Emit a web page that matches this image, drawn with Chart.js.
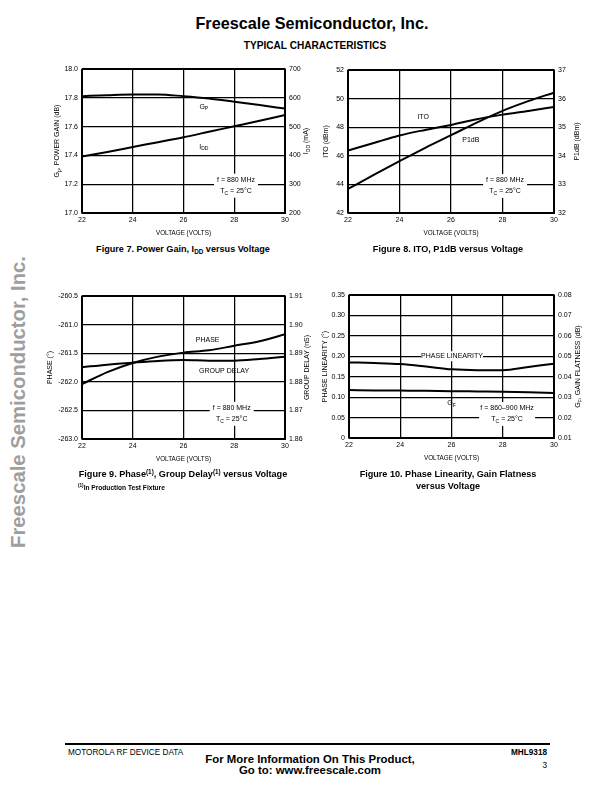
<!DOCTYPE html>
<html><head><meta charset="utf-8">
<script src="https://cdn.jsdelivr.net/npm/chart.js@4.4.1/dist/chart.umd.min.js"></script>
<style>
html,body{margin:0;padding:0;background:#fff;}
body{width:612px;height:792px;position:relative;overflow:hidden;font-family:'Liberation Sans',Arial,Helvetica,sans-serif;color:#000;}
.abs{position:absolute;white-space:nowrap;line-height:1;}
.cap{font-weight:bold;font-size:9.1px;text-align:center;}
sub,sup{font-size:70%;line-height:0;}
sub{vertical-align:-2px;}
sup{vertical-align:3px;}
canvas{position:absolute;}
</style></head><body>

<div class="abs" style="left:6px;width:612px;top:15px;text-align:center;font-weight:bold;font-size:16.2px;">Freescale Semiconductor, Inc.</div>
<div class="abs" style="left:9px;width:612px;top:41px;text-align:center;font-weight:bold;font-size:10.1px;">TYPICAL CHARACTERISTICS</div>

<div class="abs" style="left:18px;top:402px;transform:translate(-50%,-50%) rotate(-90deg);font-weight:bold;font-size:20.3px;color:#9e9e9e;">Freescale Semiconductor, Inc.</div>

<canvas id="c1"></canvas>
<canvas id="c2"></canvas>
<canvas id="c3"></canvas>
<canvas id="c4"></canvas>

<div class="abs cap" style="left:33px;width:300px;top:245px;">Figure 7. Power Gain, I<sub>DD</sub> versus Voltage</div>
<div class="abs cap" style="left:298px;width:300px;top:245px;">Figure 8. ITO, P1dB versus Voltage</div>
<div class="abs cap" style="left:33px;width:300px;top:470px;">Figure 9. Phase<sup>(1)</sup>, Group Delay<sup>(1)</sup> versus Voltage</div>
<div class="abs" style="left:78px;top:485px;font-weight:bold;font-size:6.6px;"><sup>(1)</sup>In Production Test Fixture</div>
<div class="abs cap" style="left:298px;width:300px;top:470px;">Figure 10. Phase Linearity, Gain Flatness</div>
<div class="abs cap" style="left:298px;width:300px;top:482px;">versus Voltage</div>

<div class="abs" style="left:65px;top:743px;width:485px;height:2px;background:#000;"></div>
<div class="abs" style="left:68px;top:749px;font-size:8.2px;">MOTOROLA RF DEVICE DATA</div>
<div class="abs" style="left:160px;width:300px;top:754px;text-align:center;font-weight:bold;font-size:11.4px;">For More Information On This Product,</div>
<div class="abs" style="left:160px;width:300px;top:765px;text-align:center;font-weight:bold;font-size:11.4px;">Go to: www.freescale.com</div>
<div class="abs" style="left:447px;width:100px;top:749px;text-align:right;font-weight:bold;font-size:8.2px;">MHL9318</div>
<div class="abs" style="left:447px;width:100px;top:762px;text-align:right;font-size:8.2px;">3</div>

<script>
// ---------------- data ----------------
const voltage = [22, 23, 24, 25, 26, 27, 28, 29, 30];
const voltTicks = [22, 24, 26, 28, 30];
const voltLabels = ['22', '24', '26', '28', '30'];

// Figure 7
const powerGain = [17.811, 17.818, 17.823, 17.823, 17.811, 17.795, 17.773, 17.750, 17.725];
const drainCurrent = [396, 412, 429, 446, 463, 482, 501, 520, 540];
const gainTicks = [17.0, 17.2, 17.4, 17.6, 17.8, 18.0];
const gainLabels = ['17.0', '17.2', '17.4', '17.6', '17.8', '18.0'];
const iddTicks = [200, 300, 400, 500, 600, 700];
const iddLabels = ['200', '300', '400', '500', '600', '700'];

// Figure 8
const ito = [46.37, 46.90, 47.42, 47.81, 48.16, 48.56, 48.88, 49.14, 49.42];
const p1db = [32.84, 33.33, 33.81, 34.28, 34.72, 35.16, 35.57, 35.91, 36.21];
const itoTicks = [42, 44, 46, 48, 50, 52];
const itoLabels = ['42', '44', '46', '48', '50', '52'];
const p1dbTicks = [32, 33, 34, 35, 36, 37];
const p1dbLabels = ['32', '33', '34', '35', '36', '37'];

// Figure 9
const phase = [-262.04, -261.83, -261.67, -261.56, -261.49, -261.45, -261.37, -261.29, -261.17];
const groupDelay = [1.8851, 1.8860, 1.8867, 1.8873, 1.8876, 1.8874, 1.8874, 1.8880, 1.8888];
const phaseTicks = [-263.0, -262.5, -262.0, -261.5, -261.0, -260.5];
const phaseLabels = ['-263.0', '-262.5', '-262.0', '-261.5', '-261.0', '-260.5'];
const gdTicks = [1.86, 1.87, 1.88, 1.89, 1.90, 1.91];
const gdLabels = ['1.86', '1.87', '1.88', '1.89', '1.90', '1.91'];

// Figure 10
const phaseLinearity = [0.185, 0.1835, 0.181, 0.175, 0.168, 0.166, 0.166, 0.174, 0.182];
const gainFlatness = [0.0335, 0.0333, 0.0332, 0.0331, 0.0329, 0.0328, 0.0327, 0.0324, 0.0320];
const plTicks = [0, 0.05, 0.10, 0.15, 0.20, 0.25, 0.30, 0.35];
const plLabels = ['0', '0.05', '0.10', '0.15', '0.20', '0.25', '0.30', '0.35'];
const gfTicks = [0.01, 0.02, 0.03, 0.04, 0.05, 0.06, 0.07, 0.08];
const gfLabels = ['0.01', '0.02', '0.03', '0.04', '0.05', '0.06', '0.07', '0.08'];

// ---------------- helpers ----------------
const FAM = "'Liberation Sans',Arial,sans-serif";
const FS = 7;

function drawRich(ctx, parts, x, y, size, align, sx) {
  sx = sx || 1;
  const fontFor = m => (m ? size * 0.72 : size) + 'px ' + FAM;
  let w = 0;
  for (const [t, m] of parts) { ctx.font = fontFor(m); w += ctx.measureText(t).width; }
  w *= sx;
  let cx = align === 'left' ? x : align === 'right' ? x - w : x - w / 2;
  ctx.save();
  ctx.translate(cx, y);
  ctx.scale(sx, 1);
  ctx.textBaseline = 'middle';
  ctx.textAlign = 'left';
  ctx.fillStyle = '#000';
  let px = 0;
  for (const [t, m] of parts) {
    ctx.font = fontFor(m);
    const dy = m === 'sub' ? size * 0.32 : m === 'sup' ? -size * 0.35 : 0;
    ctx.fillText(t, px, dy);
    px += ctx.measureText(t).width;
  }
  ctx.restore();
  return w;
}

const notesPlugin = {
  id: 'notes',
  beforeDatasetsDraw(chart, args, o) {
    const ctx = chart.ctx, xs = chart.scales.x, ys = chart.scales.y;
    ctx.save();
    ctx.fillStyle = '#fff';
    for (const b of (o.boxes || [])) {
      const px = xs.getPixelForValue(b.x), py = ys.getPixelForValue(b.y);
      ctx.fillRect(px - b.w / 2, py - b.h / 2, b.w, b.h);
    }
    ctx.restore();
  },
  afterDatasetsDraw(chart, args, o) {
    const ctx = chart.ctx, a = chart.chartArea, xs = chart.scales.x, ys = chart.scales.y;
    ctx.save();
    for (const b of (o.boxes || [])) {
      const px = xs.getPixelForValue(b.x), py = ys.getPixelForValue(b.y);
      const n = b.lines.length, lh = b.lh || 11;
      b.lines.forEach((ln, i) => drawRich(ctx, ln, px, py + (i - (n - 1) / 2) * lh, FS, 'center'));
    }
    for (const l of (o.labels || [])) {
      const px = xs.getPixelForValue(l.x), py = ys.getPixelForValue(l.y);
      drawRich(ctx, l.parts, px, py, FS, 'center');
    }
    ctx.strokeStyle = '#000';
    ctx.lineWidth = 1.5;
    ctx.strokeRect(Math.round(a.left) + 0.25, Math.round(a.top) + 0.25, Math.round(a.right - a.left), Math.round(a.bottom - a.top));
    const midY = (a.top + a.bottom) / 2;
    ctx.save(); ctx.translate(a.left - o.leftOff, midY); ctx.rotate(-Math.PI / 2);
    drawRich(ctx, o.leftTitle, 0, 0, FS, 'center'); ctx.restore();
    ctx.save(); ctx.translate(a.right + o.rightOff, midY); ctx.rotate(-Math.PI / 2);
    drawRich(ctx, o.rightTitle, 0, 0, FS, 'center'); ctx.restore();
    drawRich(ctx, [['VOLTAGE (VOLTS)', '']], (a.left + a.right) / 2, a.bottom + 20, FS, 'center', 0.9);
    ctx.restore();
  }
};

function tickSet(values, labels, pad) {
  return {
    afterBuildTicks: sc => { sc.ticks = values.map(v => ({ value: v })); },
    ticks: { callback: (v, i) => labels[i], font: { family: FAM, size: FS }, color: '#000', padding: pad, autoSkip: false, maxRotation: 0 }
  };
}

function buildChart(id, box, s) {
  const W = box.R - box.L + 100, H = box.B - box.T + 40;
  const cv = document.getElementById(id);
  cv.width = W; cv.height = H;
  cv.style.width = W + 'px'; cv.style.height = H + 'px';
  cv.style.left = (box.L - 50) + 'px'; cv.style.top = (box.T - 10) + 'px';
  const grid = { color: '#000', lineWidth: 1.25, drawTicks: false };
  return new Chart(cv, {
    type: 'line',
    data: {
      datasets: s.series.map(se => ({
        data: voltage.map((v, i) => ({ x: v, y: se.values[i] })),
        yAxisID: se.axis, borderColor: '#000', borderWidth: 2, pointRadius: 0,
        cubicInterpolationMode: 'monotone', fill: false
      }))
    },
    options: {
      responsive: false, animation: false, devicePixelRatio: 1,
      layout: { padding: { top: 10, left: 0, right: 0, bottom: 0 } },
      plugins: { legend: { display: false }, tooltip: { enabled: false }, notes: s.notes },
      scales: {
        x: Object.assign({ type: 'linear', min: 22, max: 30, grid, border: { display: false },
          afterFit: sc => { sc.height = 30; } }, tickSet(voltTicks, voltLabels, 3)),
        y: Object.assign({ type: 'linear', position: 'left', min: s.yMin, max: s.yMax, grid, border: { display: false },
          afterFit: sc => { sc.width = 50; } }, tickSet(s.yTicks, s.yLabels, 4)),
        y2: Object.assign({ type: 'linear', position: 'right', min: s.y2Min, max: s.y2Max, grid: { display: false, drawTicks: false }, border: { display: false },
          afterFit: sc => { sc.width = 50; } }, tickSet(s.y2Ticks, s.y2Labels, 4))
      }
    },
    plugins: [notesPlugin]
  });
}

const TC = [['T', ''], ['C', 'sub'], [' = 25°C', '']];

buildChart('c1', { L: 82, R: 285, T: 69, B: 213 }, {
  series: [{ values: powerGain, axis: 'y' }, { values: drainCurrent, axis: 'y2' }],
  yMin: 17.0, yMax: 18.0, yTicks: gainTicks, yLabels: gainLabels,
  y2Min: 200, y2Max: 700, y2Ticks: iddTicks, y2Labels: iddLabels,
  notes: {
    leftOff: 25, rightOff: 21,
    leftTitle: [['G', ''], ['p', 'sub'], [', POWER GAIN (dB)', '']],
    rightTitle: [['I', ''], ['DD', 'sub'], [' (mA)', '']],
    labels: [
      { x: 26.8, y: 17.738, parts: [['G', ''], ['P', 'sub']] },
      { x: 26.8, y: 17.46, parts: [['I', ''], ['DD', 'sub']] }
    ],
    boxes: [{ x: 28.07, y: 17.19, w: 44, h: 24, lines: [[['f = 880 MHz', '']], TC] }]
  }
});

buildChart('c2', { L: 348, R: 554, T: 70, B: 213 }, {
  series: [{ values: ito, axis: 'y' }, { values: p1db, axis: 'y2' }],
  yMin: 42, yMax: 52, yTicks: itoTicks, yLabels: itoLabels,
  y2Min: 32, y2Max: 37, y2Ticks: p1dbTicks, y2Labels: p1dbLabels,
  notes: {
    leftOff: 22, rightOff: 23,
    leftTitle: [['ITO (dBm)', '']],
    rightTitle: [['P1dB (dBm)', '']],
    labels: [
      { x: 24.92, y: 48.73, parts: [['ITO', '']] },
      { x: 26.77, y: 47.1, parts: [['P1dB', '']] }
    ],
    boxes: [{ x: 28.1, y: 43.89, w: 44, h: 24, lines: [[['f = 880 MHz', '']], TC] }]
  }
});

buildChart('c3', { L: 82, R: 285, T: 295.5, B: 439 }, {
  series: [{ values: phase, axis: 'y' }, { values: groupDelay, axis: 'y2' }],
  yMin: -263.0, yMax: -260.5, yTicks: phaseTicks, yLabels: phaseLabels,
  y2Min: 1.86, y2Max: 1.91, y2Ticks: gdTicks, y2Labels: gdLabels,
  notes: {
    leftOff: 32, rightOff: 22,
    leftTitle: [['PHASE (°)', '']],
    rightTitle: [['GROUP DELAY (nS)', '']],
    labels: [
      { x: 26.95, y: -261.275, parts: [['PHASE', '']] },
      { x: 27.6, y: -261.82, parts: [['GROUP DELAY', '']] }
    ],
    boxes: [{ x: 27.9, y: -262.56, w: 44, h: 24, lines: [[['f = 880 MHz', '']], TC] }]
  }
});

buildChart('c4', { L: 349, R: 554, T: 295, B: 438 }, {
  series: [{ values: phaseLinearity, axis: 'y' }, { values: gainFlatness, axis: 'y2' }],
  yMin: 0, yMax: 0.35, yTicks: plTicks, yLabels: plLabels,
  y2Min: 0.01, y2Max: 0.08, y2Ticks: gfTicks, y2Labels: gfLabels,
  notes: {
    leftOff: 24, rightOff: 24,
    leftTitle: [['PHASE LINEARITY (°)', '']],
    rightTitle: [['G', ''], ['F', 'sub'], [', GAIN FLATNESS (dB)', '']],
    labels: [
      { x: 26.0, y: 0.0857, parts: [['G', ''], ['F', 'sub']] }
    ],
    boxes: [
      { x: 26.02, y: 0.20, w: 62, h: 10, lines: [[['PHASE LINEARITY', '']]] },
      { x: 28.17, y: 0.0587, w: 56, h: 24, lines: [[['f = 860–900 MHz', '']], TC] }
    ]
  }
});
</script>
</body></html>
